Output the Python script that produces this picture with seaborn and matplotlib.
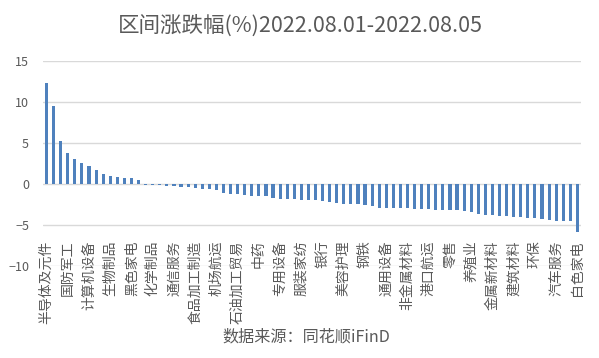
import numpy as np
import pandas as pd
import matplotlib
matplotlib.use('Agg')
import matplotlib.pyplot as plt
import seaborn as sns

# industry names (ths level-2), sorted by weekly change
industries = ['半导体及元件', '光学光电子', '电子化学品', '国防军工', '消费电子', '其他电子',
              '计算机设备', '通信设备', '电力设备', '生物制品', '仪器仪表', '化工新材料',
              '黑色家电', '小家电', '厨卫电器', '化学制品', '化工合成材料', '农化制品',
              '通信服务', '传媒', '计算机应用', '食品加工制造', '饮料制造', '农产品加工',
              '机场航运', '物流', '公路铁路运输', '石油加工贸易', '油气开采及服务', '化学原料',
              '中药', '化学制药', '医疗器械', '专用设备', '汽车零部件', '汽车整车',
              '服装家纺', '纺织制造', '家用轻工', '银行', '保险及其他', '证券',
              '美容护理', '医疗服务', '医药商业', '钢铁', '工业金属', '有色冶炼加工',
              '通用设备', '非汽车交运', '交运设备服务', '非金属材料', '贵金属', '小金属',
              '港口航运', '电力', '燃气', '零售', '贸易', '酒店及餐饮',
              '养殖业', '种植业与林业', '农业服务', '金属新材料', '装修建材', '建筑装饰',
              '建筑材料', '造纸', '包装印刷', '环保', '综合', '景点及旅游',
              '汽车服务', '房地产开发', '园区开发', '白色家电']

# % change 2022.08.01-2022.08.05
change = [12.36, 9.55, 5.28, 3.78, 3.05, 2.56, 2.2, 1.71, 1.22, 0.98, 0.85, 0.73, 0.73, 0.49,
          -0.16, -0.16, -0.16, -0.28, -0.28, -0.4, -0.4, -0.53, -0.65, -0.65, -0.77,
          -1.14, -1.26, -1.26, -1.38, -1.5, -1.5, -1.5, -1.75, -1.87, -1.87, -1.87,
          -2.0, -2.0, -2.0, -2.11, -2.24, -2.36, -2.48, -2.48, -2.48, -2.6, -2.72,
          -2.97, -2.97, -2.97, -2.97, -2.97, -3.09, -3.09, -3.09,
          -3.21, -3.21, -3.21, -3.21, -3.33, -3.46, -3.7, -3.82, -3.82, -3.94, -3.94,
          -4.07, -4.07, -4.19, -4.19, -4.31, -4.43, -4.55, -4.55, -4.55, -5.9]

df = pd.DataFrame({'行业': industries, '涨跌幅': change})

sns.set_style('white')
plt.rcParams['font.family'] = ['Noto Sans CJK SC', 'DejaVu Sans']
txt = '#595959'

fig = plt.figure(figsize=(5.99, 3.58), dpi=100)
ax = fig.add_axes([0.0718, 0.257, 0.898, 0.573])

sns.barplot(data=df, x='行业', y='涨跌幅', color='#4F81BD', width=0.44,
            saturation=1, linewidth=0, ax=ax, zorder=3)

ax.set_xlim(-0.5, len(industries) - 0.5)
ax.set_ylim(-10, 15)
ax.set_yticks([-10, -5, 0, 5, 10, 15])
ax.yaxis.grid(True, color='#D9D9D9', linewidth=1, zorder=0)
ax.set_axisbelow(True)
for s in ax.spines.values():
    s.set_visible(False)

# only every 3rd label shown
pos = list(range(0, len(industries), 3))
ax.set_xticks(pos)
ax.set_xticklabels([industries[i] for i in pos], rotation=90, fontsize=10, color=txt)
ax.tick_params(axis='x', length=0, pad=-18.5)
ax.tick_params(axis='y', length=0, pad=10, labelsize=9, labelcolor=txt)
ax.set_xlabel('')
ax.set_ylabel('')

fig.text(0.501, 1 - 27 / 358, '区间涨跌幅(%)2022.08.01-2022.08.05', ha='center', va='center',
         fontsize=15.5, color=txt)
fig.text(0.511, 1 - 337 / 358, '数据来源：同花顺iFinD', ha='center', va='center',
         fontsize=11.6, color=txt)

fig.savefig('out.png', dpi=100)
